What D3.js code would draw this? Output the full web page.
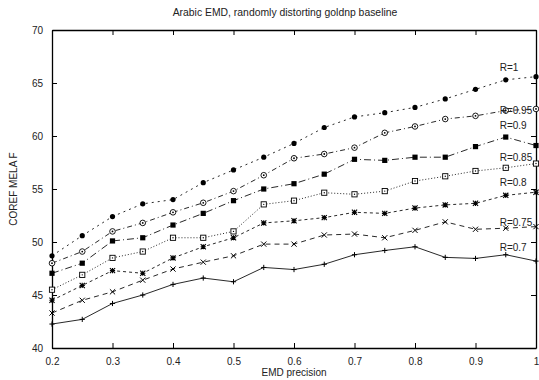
<!DOCTYPE html>
<html lang="en">
<head>
<meta charset="UTF-8">
<title>Arabic EMD, randomly distorting goldnp baseline</title>
<script src="https://d3js.org/d3.v7.min.js"></script>
<style>
    body { margin: 0; background: #fff; font-family: "Liberation Sans", Arial, sans-serif; }
    svg text { fill: #222; }
</style>
</head>
<body>
<div id="chart"></div>
<script>
// data
const precision = [0.2, 0.25, 0.3, 0.35, 0.4, 0.45, 0.5, 0.55, 0.6, 0.65, 0.7, 0.75, 0.8, 0.85, 0.9, 0.95, 1.0];
const seriesNames = ["R=1", "R=0.95", "R=0.9", "R=0.85", "R=0.8", "R=0.75", "R=0.7"];
const r100 = [48.7, 50.6, 52.4, 53.6, 54.0, 55.6, 56.8, 58.0, 59.3, 60.8, 61.8, 62.2, 62.7, 63.5, 64.4, 65.3, 65.6];
const r095 = [48.0, 49.1, 51.0, 51.8, 52.8, 53.7, 54.8, 56.3, 57.9, 58.3, 58.9, 60.3, 60.9, 61.6, 61.9, 62.4, 62.55];
const r090 = [47.05, 48.0, 50.1, 50.4, 51.6, 52.7, 53.9, 55.0, 55.5, 56.4, 57.8, 57.7, 58.0, 58.0, 59.0, 59.9, 59.1];
const r085 = [45.5, 46.9, 48.5, 49.1, 50.4, 50.4, 51.0, 53.55, 53.9, 54.65, 54.5, 54.8, 55.75, 56.2, 56.7, 57.0, 57.4];
const r080 = [44.5, 45.9, 47.3, 47.05, 48.5, 49.55, 50.4, 51.8, 52.0, 52.3, 52.8, 52.7, 53.2, 53.5, 53.65, 54.4, 54.7];
const r075 = [43.3, 44.5, 45.3, 46.4, 47.45, 48.1, 48.7, 49.8, 49.8, 50.66, 50.75, 50.4, 51.1, 51.9, 51.2, 51.3, 51.45];
const r070 = [42.26, 42.7, 44.2, 45.0, 46.0, 46.6, 46.25, 47.6, 47.4, 47.9, 48.8, 49.2, 49.55, 48.55, 48.45, 48.8, 48.2];
// where each label sits (data coords)
const labelX = [0.94, 0.94, 0.94, 0.94, 0.94, 0.94, 0.94];
const labelY = [66.1, 62.1, 60.65, 57.65, 55.3, 51.5, 49.15];
const xTicks = [0.2, 0.3, 0.4, 0.5, 0.6, 0.7, 0.8, 0.9, 1];
const yTicks = [40, 45, 50, 55, 60, 65, 70];

const allValues = [r100, r095, r090, r085, r080, r075, r070];
const markers = ["dot", "odot", "fsquare", "osquare", "star", "cross", "plus"];
const dashes = ["2,4", "5,3,1,3", "7,3,1,3", "1,2", "3,3", "5,4", null];

const width = 539, height = 380;
const margin = {top: 30, right: 3, bottom: 32, left: 52};

const svg = d3.select("#chart").append("svg")
    .attr("width", width)
    .attr("height", height);

const x = d3.scaleLinear().domain([0.2, 1]).range([margin.left, width - margin.right]);
const y = d3.scaleLinear().domain([40, 70]).range([height - margin.bottom, margin.top]);

// axes with inward ticks, mirrored
svg.append("g")
    .attr("transform", `translate(0,${y(40)})`)
    .call(d3.axisBottom(x).tickValues(xTicks).tickSizeInner(-5).tickSizeOuter(0).tickPadding(10).tickFormat(d3.format("")));
svg.append("g")
    .attr("transform", `translate(0,${y(70)})`)
    .call(d3.axisTop(x).tickValues(xTicks).tickSizeInner(-5).tickSizeOuter(0).tickFormat(""));
svg.append("g")
    .attr("transform", `translate(${x(0.2)},0)`)
    .call(d3.axisLeft(y).tickValues(yTicks).tickSizeInner(-5).tickSizeOuter(0).tickPadding(9));
svg.append("g")
    .attr("transform", `translate(${x(1)},0)`)
    .call(d3.axisRight(y).tickValues(yTicks).tickSizeInner(-5).tickSizeOuter(0).tickFormat(""));

svg.selectAll(".domain").attr("stroke", "#000").attr("stroke-width", 1.3);
svg.selectAll(".tick line").attr("stroke", "#000");
svg.selectAll(".tick text").attr("font-size", 10).attr("font-family", "Liberation Sans, Arial, sans-serif").attr("fill", "#222");

// titles
svg.append("text")
    .attr("x", 285).attr("y", 16)
    .attr("text-anchor", "middle")
    .attr("font-size", 10.4)
    .text("Arabic EMD, randomly distorting goldnp baseline");
svg.append("text")
    .attr("x", 294).attr("y", 376)
    .attr("text-anchor", "middle")
    .attr("font-size", 10)
    .text("EMD precision");
svg.append("text")
    .attr("transform", "translate(17,189) rotate(-90)")
    .attr("text-anchor", "middle")
    .attr("font-size", 10)
    .text("COREF MELA F");

const line = d3.line()
    .x((d, i) => x(precision[i]))
    .y(d => y(d));

function drawMarker(g, type, cx, cy) {
    const s = 2.6;
    if (type === "dot") {
        g.append("circle").attr("cx", cx).attr("cy", cy).attr("r", 2.6).attr("fill", "#000");
    } else if (type === "odot") {
        g.append("circle").attr("cx", cx).attr("cy", cy).attr("r", 2.8).attr("fill", "#fff").attr("stroke", "#000").attr("stroke-width", 0.9);
        g.append("circle").attr("cx", cx).attr("cy", cy).attr("r", 0.9).attr("fill", "#000");
    } else if (type === "fsquare") {
        g.append("rect").attr("x", cx - s).attr("y", cy - s).attr("width", 2 * s).attr("height", 2 * s).attr("fill", "#000");
    } else if (type === "osquare") {
        g.append("rect").attr("x", cx - s).attr("y", cy - s).attr("width", 2 * s).attr("height", 2 * s)
            .attr("fill", "#fff").attr("stroke", "#000").attr("stroke-width", 0.9);
        g.append("circle").attr("cx", cx).attr("cy", cy).attr("r", 0.7).attr("fill", "#000");
    } else if (type === "star") {
        g.append("path").attr("d", `M${cx - s},${cy}H${cx + s}M${cx},${cy - s}V${cy + s}M${cx - s},${cy - s}L${cx + s},${cy + s}M${cx - s},${cy + s}L${cx + s},${cy - s}`)
            .attr("stroke", "#000").attr("stroke-width", 1.1);
    } else if (type === "cross") {
        g.append("path").attr("d", `M${cx - s},${cy - s}L${cx + s},${cy + s}M${cx - s},${cy + s}L${cx + s},${cy - s}`)
            .attr("stroke", "#000").attr("stroke-width", 1);
    } else {
        g.append("path").attr("d", `M${cx - s},${cy}H${cx + s}M${cx},${cy - s}V${cy + s}`)
            .attr("stroke", "#000").attr("stroke-width", 1);
    }
}

allValues.forEach((vals, k) => {
    const g = svg.append("g");
    g.append("path")
        .datum(vals)
        .attr("d", line)
        .attr("fill", "none")
        .attr("stroke", "#111")
        .attr("stroke-width", 0.9)
        .attr("stroke-dasharray", dashes[k]);
    vals.forEach((v, i) => drawMarker(g, markers[k], x(precision[i]), y(v)));
    svg.append("text")
        .attr("x", x(labelX[k])).attr("y", y(labelY[k]))
        .attr("font-size", 10)
        .text(seriesNames[k]);
});
</script>
</body>
</html>
